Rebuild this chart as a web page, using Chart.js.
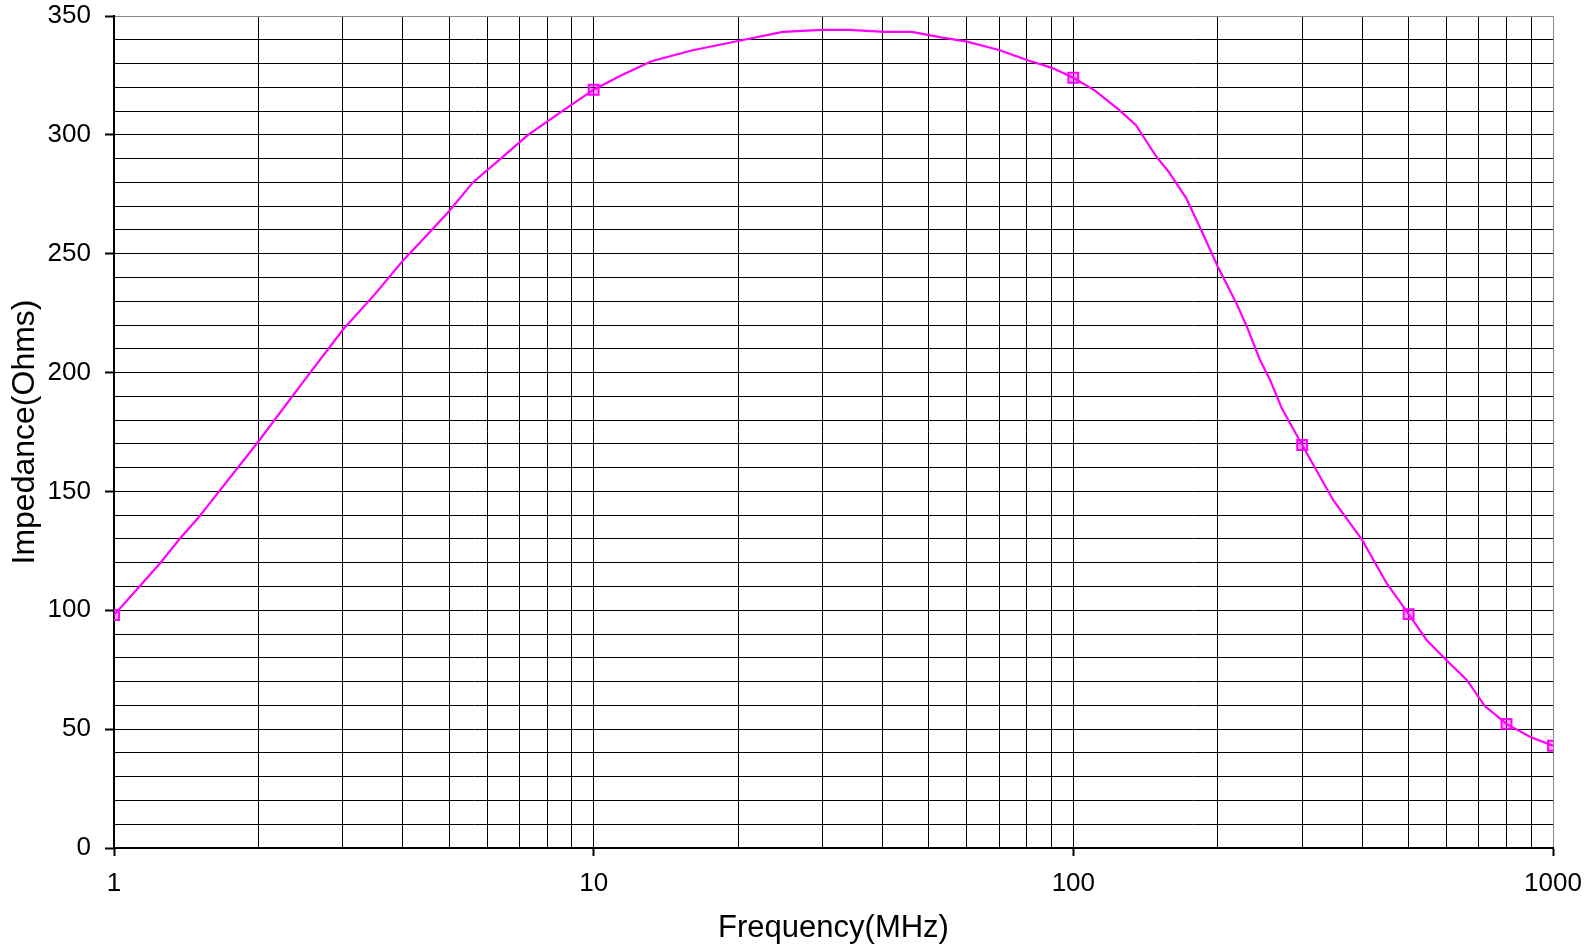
<!DOCTYPE html>
<html>
<head>
<meta charset="utf-8">
<title>Impedance vs Frequency</title>
<script src="https://cdn.jsdelivr.net/npm/chart.js@4/dist/chart.umd.min.js"></script>
<style>
    body { margin: 0; background: #fff; }
    #wrap { width: 1591px; height: 949px; }
</style>
</head>
<body>
<div id="wrap"><canvas id="impChart"></canvas></div>
<script>
// Curve points (MHz, Ohms)
const freq = [1, 1.13, 1.25, 1.37, 1.5, 2, 2.5, 3, 3.5, 4, 4.5, 5, 5.6, 6.4, 7.3, 8.6,
    10, 11.4, 13.2, 16, 20, 24.8, 30, 34, 40.5, 46, 53, 60, 70, 80, 90,
    100, 111, 124, 135, 149, 158, 172, 184, 200, 219, 230, 245, 257, 272,
    300, 348, 400, 450, 500, 545, 600, 661, 721, 800, 895, 1000];
const impedance = [98, 110, 120, 130, 139, 171, 197, 218, 233, 247, 258, 268, 280, 290, 300, 310,
    319, 325, 331, 335.5, 339.5, 343.3, 344.2, 344.2, 343.3, 343.3, 341, 339.2, 335.7, 331.5, 328.3,
    324, 318.6, 310.8, 304.2, 290.8, 284.5, 273.3, 260.7, 244.6, 229, 219.3, 205.3, 197, 185,
    169.5, 146.4, 129.6, 111.4, 98.4, 87.5, 79, 70.7, 59.7, 52.2, 46.8, 43];

// Measured points that carry a marker
const markerFreq = [1, 10, 100, 300, 500, 800, 1000];
const markerImp = [98, 319, 324, 169.5, 98.4, 52.2, 43];

// Axis ticks / grid
const xGridTicks = [1, 2, 3, 4, 5, 6, 7, 8, 9, 10, 20, 30, 40, 50, 60, 70, 80, 90,
    100, 200, 300, 400, 500, 600, 700, 800, 900, 1000];
const xLabelTicks = [1, 10, 100, 1000];
const yMin = 0, yMax = 350, yGridStep = 10, yLabelStep = 50;

const magenta = "#ff00ff";
const fontFamily = "'Liberation Sans', Arial, sans-serif";

// keep the plot box where the layout padding puts it
function noOverhang(scale) {
    scale.paddingTop = 0;
    scale.paddingBottom = 0;
    scale.paddingLeft = 0;
    scale.paddingRight = 0;
}

let chart;
function createChart() {
    const ctx = document.getElementById("impChart").getContext("2d");
    chart = new Chart(ctx, {
        type: "line",
        data: {
            datasets: [{
                label: "Impedance",
                data: freq.map((f, i) => ({ x: f, y: impedance[i] })),
                borderColor: magenta,
                borderWidth: 2.2,
                pointRadius: 0,
                tension: 0,
                fill: false,
            }, {
                label: "Measured",
                data: markerFreq.map((f, i) => ({ x: f, y: markerImp[i] })),
                showLine: false,
                pointStyle: "rect",
                pointRadius: 7,
                pointBorderWidth: 2,
                pointBorderColor: magenta,
                pointBackgroundColor: "rgba(255,0,255,0.35)",
            }],
        },
        options: {
            responsive: true,
            maintainAspectRatio: false,
            animation: false,
            layout: { padding: { top: 16, right: 38, left: 0, bottom: 0 } },
            plugins: {
                legend: { display: false },
                tooltip: { enabled: false },
            },
            scales: {
                x: {
                    type: "logarithmic",
                    min: 1,
                    max: 1000,
                    afterBuildTicks: scale => {
                        scale.ticks = xGridTicks.map(v => ({ value: v }));
                    },
                    afterFit: scale => { scale.height = 101; noOverhang(scale); },
                    ticks: {
                        autoSkip: false,
                        maxRotation: 0,
                        padding: 12,
                        color: "#000",
                        font: { family: fontFamily, size: 26 },
                        callback: value => xLabelTicks.includes(value) ? String(value) : "",
                    },
                    grid: {
                        color: c => (c.tick && c.tick.value === 1000) ? "#888" : "#000",
                        lineWidth: 1,
                        tickLength: 8,
                        tickWidth: 2,
                        tickColor: c => (c.tick && xLabelTicks.includes(c.tick.value)) ? "#000" : "rgba(0,0,0,0)",
                    },
                    border: { color: "#000", width: 2 },
                    title: {
                        display: true,
                        text: "Frequency(MHz)",
                        color: "#000",
                        font: { family: fontFamily, size: 31 },
                        padding: { top: 0, bottom: 2 },
                    },
                },
                y: {
                    min: yMin,
                    max: yMax,
                    afterFit: scale => { scale.width = 114; noOverhang(scale); },
                    ticks: {
                        stepSize: yGridStep,
                        autoSkip: false,
                        padding: 14,
                        color: "#000",
                        font: { family: fontFamily, size: 26 },
                        callback: value => value % yLabelStep === 0 ? String(value) : "",
                    },
                    grid: {
                        color: c => (c.tick && c.tick.value === yMax) ? "#888" : "#000",
                        lineWidth: 1,
                        tickLength: 9,
                        tickWidth: 2,
                        tickColor: c => (c.tick && c.tick.value % yLabelStep === 0) ? "#000" : "rgba(0,0,0,0)",
                    },
                    border: { color: "#000", width: 2 },
                    title: {
                        display: true,
                        text: "Impedance(Ohms)",
                        color: "#000",
                        font: { family: fontFamily, size: 32 },
                        padding: { top: 6, bottom: 0 },
                    },
                },
            },
        },
    });
}

document.addEventListener("DOMContentLoaded", createChart);
</script>
</body>
</html>
